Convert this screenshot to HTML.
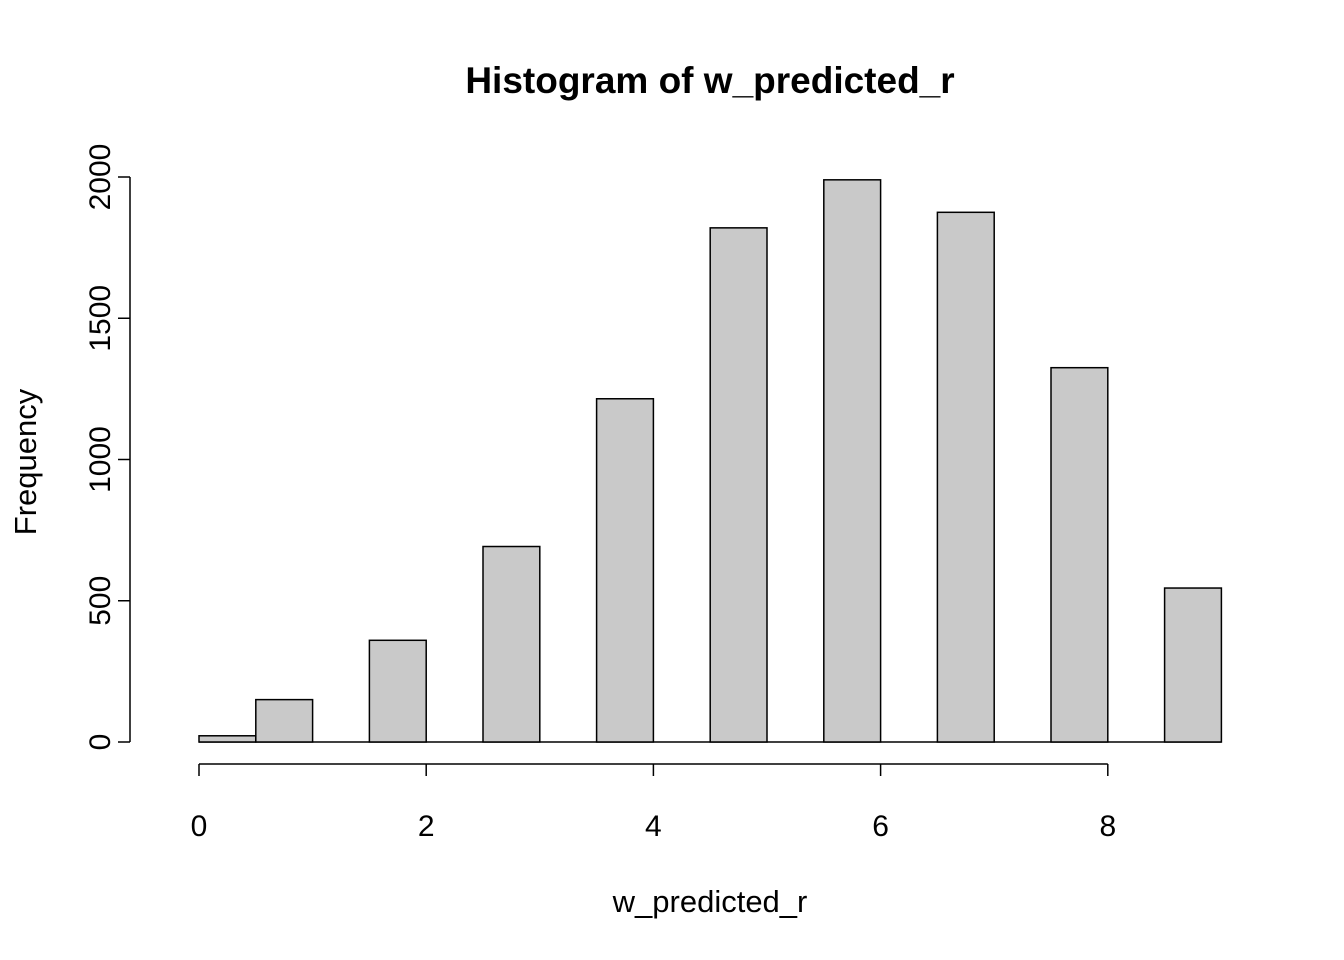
<!DOCTYPE html>
<html><head><meta charset="utf-8"><style>
html,body{margin:0;padding:0;background:#fff;}
svg{display:block;font-family:"Liberation Sans",Arial,sans-serif;}
</style></head><body>
<svg id="chart" width="1344" height="960">
<text x="710" y="93" text-anchor="middle" font-size="37" font-weight="bold">Histogram of w_predicted_r</text>
<text x="710" y="912" text-anchor="middle" font-size="31">w_predicted_r</text>
<text transform="translate(36,462) rotate(-90)" text-anchor="middle" font-size="31">Frequency</text>
<g id="bars"></g>
<g id="xaxis"></g>
<g id="yaxis"></g>
</svg>
<script>
const binStarts = [0,0.5,1,1.5,2,2.5,3,3.5,4,4.5,5,5.5,6,6.5,7,7.5,8,8.5];
const binWidth = 0.5;
const counts = [22,150,0,360,0,692,0,1215,0,1820,0,1990,0,1875,0,1325,0,545];
const xTicks = [0,2,4,6,8];
const yTicks = [0,500,1000,1500,2000];
const NS='http://www.w3.org/2000/svg';
const xs = v => 199 + v*113.6;
const ys = v => 742 - v*0.2825;
function mk(tag, attrs, parent){const e=document.createElementNS(NS,tag);for(const k in attrs)e.setAttribute(k,attrs[k]);parent.appendChild(e);return e;}
const bars=document.getElementById('bars');
const base=mk('line',{x1:xs(binStarts[0]),x2:xs(binStarts[binStarts.length-1]+binWidth),y1:ys(0),y2:ys(0),stroke:'#000','stroke-width':1.5},bars);


binStarts.forEach((b,i)=>{
  const x0=xs(b), x1=xs(b+binWidth), y=ys(counts[i]);
  const r=mk('rect',{x:x0,y:y,width:x1-x0,height:742-y,fill:'#c9c9c9',stroke:'#000','stroke-width':1.5},bars);
  
  
});
const xa=document.getElementById('xaxis');
mk('line',{x1:xs(xTicks[0]),x2:xs(xTicks[xTicks.length-1]),y1:764,y2:764,stroke:'#000','stroke-width':1.5},xa);
xTicks.forEach(t=>{
  mk('line',{x1:xs(t),x2:xs(t),y1:764,y2:776,stroke:'#000','stroke-width':1.5},xa);
  const tx=mk('text',{x:xs(t),y:836,'text-anchor':'middle','font-size':30},xa);
  tx.textContent=t;
  
  
});
const ya=document.getElementById('yaxis');
mk('line',{x1:130,x2:130,y1:ys(yTicks[0]),y2:ys(yTicks[yTicks.length-1]),stroke:'#000','stroke-width':1.5},ya);
yTicks.forEach(t=>{
  mk('line',{x1:118,x2:130,y1:ys(t),y2:ys(t),stroke:'#000','stroke-width':1.5},ya);
  const tx=mk('text',{transform:'translate(110,'+ys(t)+') rotate(-90)','text-anchor':'middle','font-size':30},ya);
  tx.textContent=t;
  
  
});
</script>
</body></html>
